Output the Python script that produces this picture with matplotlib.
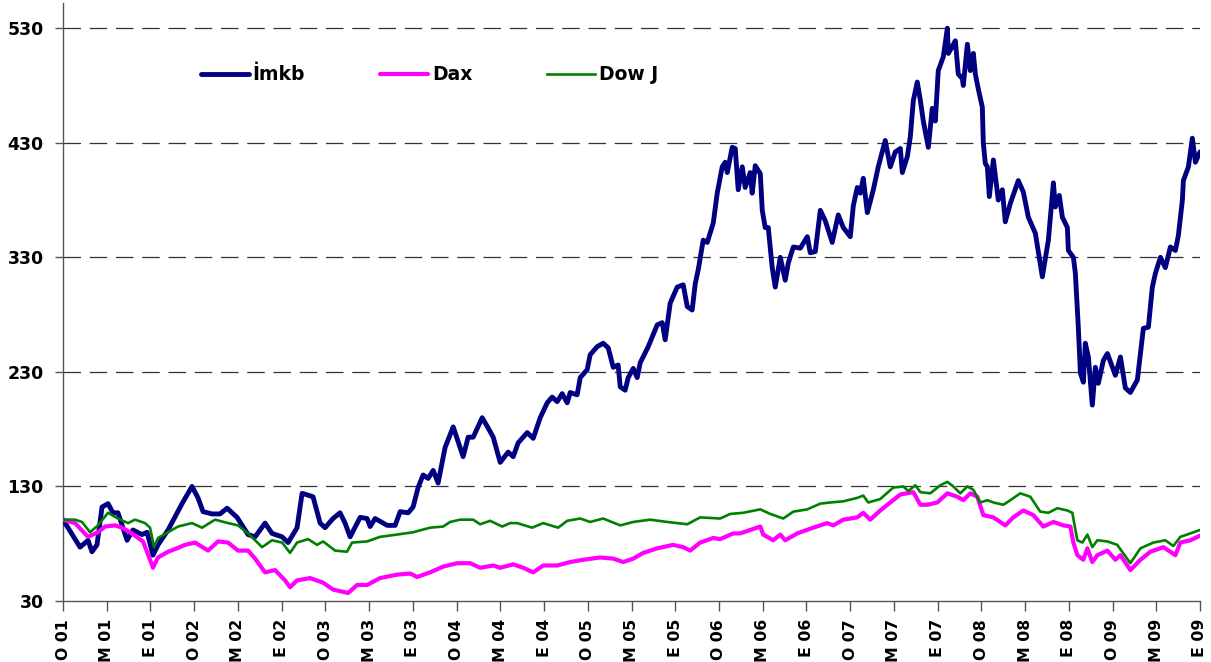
import matplotlib
matplotlib.use("Agg")
import matplotlib.pyplot as plt
from matplotlib.transforms import ScaledTranslation

plt.rcParams['font.family'] = ['DejaVu Sans']

# time axis: months since January 2001
tick_labels = ["O 01", "M 01", "E 01", "O 02", "M 02", "E 02", "O 03", "M 03", "E 03",
               "O 04", "M 04", "E 04", "O 05", "M 05", "E 05", "O 06", "M 06", "E 06",
               "O 07", "M 07", "E 07", "O 08", "M 08", "E 08", "O 09", "M 09", "E 09"]
tick_months = [4 * i for i in range(len(tick_labels))]

imkb_t = [0, 1.56, 2.29, 2.65, 3.11, 3.57, 4.12, 4.57, 5.03, 5.86, 6.40, 7.23, 7.69, 8.23, 8.69,
          9.61, 10.89, 11.80, 12.35, 12.81, 13.63, 14.36, 15.01, 15.92, 16.93, 17.57, 18.48,
          19.12, 20.04, 20.59, 21.41, 21.87, 22.87, 23.52, 23.97, 24.70, 25.34, 25.80, 26.26,
          27.18, 27.82, 28.09, 28.55, 29.65, 30.38, 30.84, 31.57, 32.02, 32.48, 32.94, 33.40,
          33.86, 34.31, 34.95, 35.69, 36.14, 36.60, 37.06, 37.52, 38.34, 38.89, 39.35, 39.99,
          40.72, 41.18, 41.63, 42.46, 43.01, 43.65, 44.29, 44.74, 45.20, 45.66, 46.12, 46.39,
          47.03, 47.31, 47.95, 48.22, 48.86, 49.41, 49.87, 50.33, 50.78, 50.97, 51.42, 51.70,
          52.16, 52.52, 52.80, 53.53, 54.35, 54.81, 55.08, 55.54, 56.18, 56.73, 57.10, 57.55,
          57.83, 58.10, 58.56, 58.93, 59.48, 59.84, 60.30, 60.57, 60.76, 61.21, 61.49, 61.76,
          62.13, 62.40, 62.86, 63.04, 63.32, 63.78, 63.96, 64.23, 64.51, 64.87, 65.15, 65.61,
          66.06, 66.34, 66.80, 67.44, 68.08, 68.35, 68.81, 69.27, 69.72, 70.36, 70.91, 71.37,
          72.01, 72.29, 72.65, 72.93, 73.20, 73.57, 74.12, 74.57, 75.21, 75.67, 76.13, 76.59,
          76.77, 77.23, 77.50, 77.78, 78.14, 78.42, 78.69, 79.15, 79.51, 79.79, 80.06, 80.52,
          80.89, 80.98, 81.34, 81.62, 81.89, 82.26, 82.35, 82.72, 82.99, 83.27, 83.45, 83.72,
          84.09, 84.18, 84.36, 84.55, 84.73, 85.10, 85.55, 85.92, 86.19, 86.65, 87.38, 87.84,
          88.30, 88.94, 89.58, 90.13, 90.59, 90.77, 91.13, 91.41, 91.87, 91.96, 92.42, 92.60,
          92.87, 93.06, 93.33, 93.51, 93.79, 94.15, 94.43, 94.70, 95.16, 95.53, 96.26, 96.72,
          97.17, 97.63, 98.27, 98.55, 98.82, 99.28, 99.64, 99.92, 100.38, 100.83, 101.29,
          101.75, 102.02, 102.39, 102.48, 102.94, 103.30, 103.58, 104.0]
imkb_v = [101, 77, 83, 73, 79, 112, 115, 107, 107, 83, 92, 88, 90, 70, 79,
          92, 115, 130, 120, 108, 106, 106, 111, 103, 88, 86, 98,
          89, 86, 81, 94, 124, 121, 98, 94, 102, 107, 98, 86,
          103, 102, 95, 102, 96, 96, 108, 107, 112, 129, 140, 137,
          144, 133, 164, 182, 169, 156, 173, 173, 190, 181, 173, 151,
          160, 156, 168, 177, 172, 190, 203, 208, 204, 211, 203, 212,
          210, 225, 232, 245, 252, 255, 251, 234, 236, 217, 214, 225,
          233, 225, 238, 252, 271, 273, 258, 290, 304, 306, 287, 284,
          307, 319, 345, 343, 360, 386, 409, 413, 404, 426, 425, 389,
          409, 391, 404, 386, 410, 403, 371, 356, 356, 321, 304, 330,
          310, 325, 339, 338, 348, 334, 335, 371, 362, 343, 367, 356,
          348, 375, 391, 386, 399, 369, 389, 409, 432, 409, 422, 425,
          404, 418, 435, 467, 483, 467, 449, 426, 460, 449, 493, 505,
          530, 508, 514, 519, 490, 486, 480, 516, 493, 508, 490, 477,
          461, 430, 412, 409, 383, 415, 380, 389, 361, 377, 397, 387,
          365, 351, 313, 345, 395, 374, 384, 365, 356, 336, 330, 316,
          269, 229, 221, 255, 243, 201, 234, 220, 240, 246, 227, 243,
          216, 212, 223, 246, 268, 269, 304, 316, 330, 321, 339,
          336, 349, 380, 397, 409, 434, 413, 422]

dax_t = [0, 1.10, 2.29, 3.20, 3.84, 4.76, 5.40, 6.13, 7.32, 7.96, 8.23, 8.69, 9.61, 10.43,
         11.16, 12.08, 13.27, 14.18, 15.10, 16.01, 16.93, 17.57, 18.48, 19.40, 20.31, 20.77,
         21.41, 22.60, 23.79, 24.70, 26.08, 26.90, 27.82, 29.00, 30.56, 31.75, 32.39, 33.58,
         34.77, 36.05, 37.24, 38.15, 39.35, 39.99, 41.18, 42.09, 43.01, 43.92, 45.20, 46.39,
         47.58, 49.13, 50.33, 51.24, 52.16, 53.07, 54.35, 55.81, 56.73, 57.37, 58.28, 59.48,
         60.11, 61.30, 61.94, 62.86, 63.78, 64.05, 64.96, 65.61, 66.06, 67.16, 68.62, 69.90,
         70.45, 71.37, 72.65, 73.20, 73.84, 74.75, 75.67, 76.59, 77.78, 78.42, 79.05, 79.97,
         80.89, 81.80, 82.35, 82.99, 83.63, 84.18, 85.10, 86.19, 86.92, 87.84, 88.75, 89.67,
         90.59, 91.50, 92.14, 92.42, 92.78, 93.33, 93.70, 94.15, 94.61, 95.53, 96.26, 96.72,
         97.63, 98.55, 99.46, 100.65, 101.75, 102.20, 103.12, 104.0]
dax_v = [101, 98, 86, 90, 95, 96, 94, 90, 82, 66, 59, 68, 73, 76,
         79, 81, 74, 82, 81, 74, 74, 67, 55, 57, 48, 42,
         48, 50, 46, 40, 37, 44, 44, 50, 53, 54, 51, 55,
         60, 63, 63, 59, 61, 59, 62, 59, 55, 61, 61, 64,
         66, 68, 67, 64, 67, 72, 76, 79, 77, 74, 81, 85,
         84, 89, 89, 92, 95, 88, 83, 88, 83, 89, 94, 98,
         96, 101, 103, 107, 101, 109, 116, 123, 125, 114, 114, 116,
         124, 121, 118, 124, 121, 105, 103, 96, 103, 109, 105, 95,
         99, 96, 95, 81, 70, 66, 76, 64, 70, 74, 66, 70,
         57, 66, 73, 77, 70, 81, 83, 87]

dow_t = [0, 1.10, 1.74, 2.47, 3.20, 4.12, 5.03, 5.95, 6.59, 7.50, 7.96, 8.33, 8.69, 9.61,
         10.52, 11.80, 12.72, 13.91, 15.10, 16.01, 16.93, 18.21, 19.12, 20.04, 20.77, 21.41,
         22.42, 23.24, 23.79, 24.89, 25.98, 26.44, 27.82, 29.00, 30.56, 32.02, 33.58, 34.77,
         35.41, 36.32, 37.52, 38.15, 39.07, 40.17, 40.90, 41.54, 42.91, 43.92, 45.29, 46.12,
         47.31, 48.22, 49.41, 50.97, 52.16, 53.71, 55.26, 57.10, 58.28, 60.11, 61.03, 62.22,
         63.78, 64.69, 65.88, 66.80, 68.08, 69.27, 70.18, 71.37, 72.65, 73.20, 73.66, 74.75,
         75.94, 76.86, 77.32, 77.96, 78.42, 79.33, 80.24, 80.89, 81.44, 82.07, 82.72, 83.27,
         83.90, 84.55, 85.10, 86.01, 86.65, 87.56, 88.48, 89.39, 90.13, 90.95, 91.87, 92.32,
         92.78, 93.24, 93.70, 94.15, 94.61, 95.53, 96.43, 97.63, 98.55, 99.73, 100.83, 101.56,
         102.20, 103.12, 104.0]
dow_v = [101, 101, 99, 90, 96, 107, 102, 98, 101, 98, 94, 77, 85, 90,
         95, 98, 94, 101, 98, 96, 89, 77, 83, 81, 72, 81,
         84, 79, 82, 74, 73, 81, 82, 86, 88, 90, 94, 95,
         99, 101, 101, 97, 100, 95, 98, 98, 94, 98, 94, 100,
         102, 99, 102, 96, 99, 101, 99, 97, 103, 102, 106, 107,
         110, 106, 102, 108, 110, 115, 116, 117, 120, 122, 116, 119,
         129, 130, 126, 131, 125, 124, 131, 134, 130, 124, 130, 127,
         116, 118, 116, 114, 118, 124, 121, 108, 107, 111, 109, 107,
         83, 81, 88, 77, 83, 82, 79, 63, 76, 81, 83, 78,
         86, 89, 92]

series_names = ["İmkb", "Dax", "Dow J"]
y_ticks = [30, 130, 230, 330, 430, 530]

W, H = 1211, 662
fig = plt.figure(figsize=(W / 100, H / 100), dpi=100)
ax = fig.add_axes([63 / W, 1 - 601 / H, (1200 - 63) / W, (601 - 3) / H])

ax.plot(imkb_t, imkb_v, color='#000080', lw=3.5, solid_joinstyle='round',
        solid_capstyle='round', label=series_names[0], zorder=3)
ax.plot(dax_t, dax_v, color='#FF00FF', lw=3.0, solid_joinstyle='round',
        solid_capstyle='round', label=series_names[1], zorder=4)
ax.plot(dow_t, dow_v, color='#008000', lw=1.9, solid_joinstyle='round',
        label=series_names[2], zorder=5)

ax.set_xlim(0, 104)
ax.set_ylim(30, 552)
ax.set_yticks(y_ticks)
ax.set_yticklabels([str(v) for v in y_ticks], fontsize=12.5, fontweight='bold')
ax.set_xticks(tick_months)
ax.set_xticklabels(tick_labels, rotation=90, fontsize=11.3, fontweight='bold',
                   va='top', ha='center')
shift = ScaledTranslation(-2.5 / 100, 0, fig.dpi_scale_trans)
for lbl in ax.get_xticklabels():
    lbl.set_transform(lbl.get_transform() + shift)

for v in y_ticks[1:]:
    ax.axhline(v, color='#333333', lw=0.9, dashes=(14, 7), zorder=1)

for s in ['top', 'right']:
    ax.spines[s].set_visible(False)
for s in ['left', 'bottom']:
    ax.spines[s].set_color('#555555')
    ax.spines[s].set_linewidth(1.0)
ax.tick_params(axis='y', direction='out', length=6, width=1, color='#555555', pad=8)
ax.tick_params(axis='x', direction='out', length=7, width=1, color='#555555', pad=6)

leg = fig.legend(loc='center left', bbox_to_anchor=(201 / W, 1 - 75 / H),
                 bbox_transform=fig.transFigure, ncol=3, frameon=False,
                 borderpad=0, borderaxespad=0, handlelength=2.56, handletextpad=0.2,
                 columnspacing=4.0, prop={'weight': 'bold', 'size': 13.5})

fig.savefig('out.png', dpi=100)
